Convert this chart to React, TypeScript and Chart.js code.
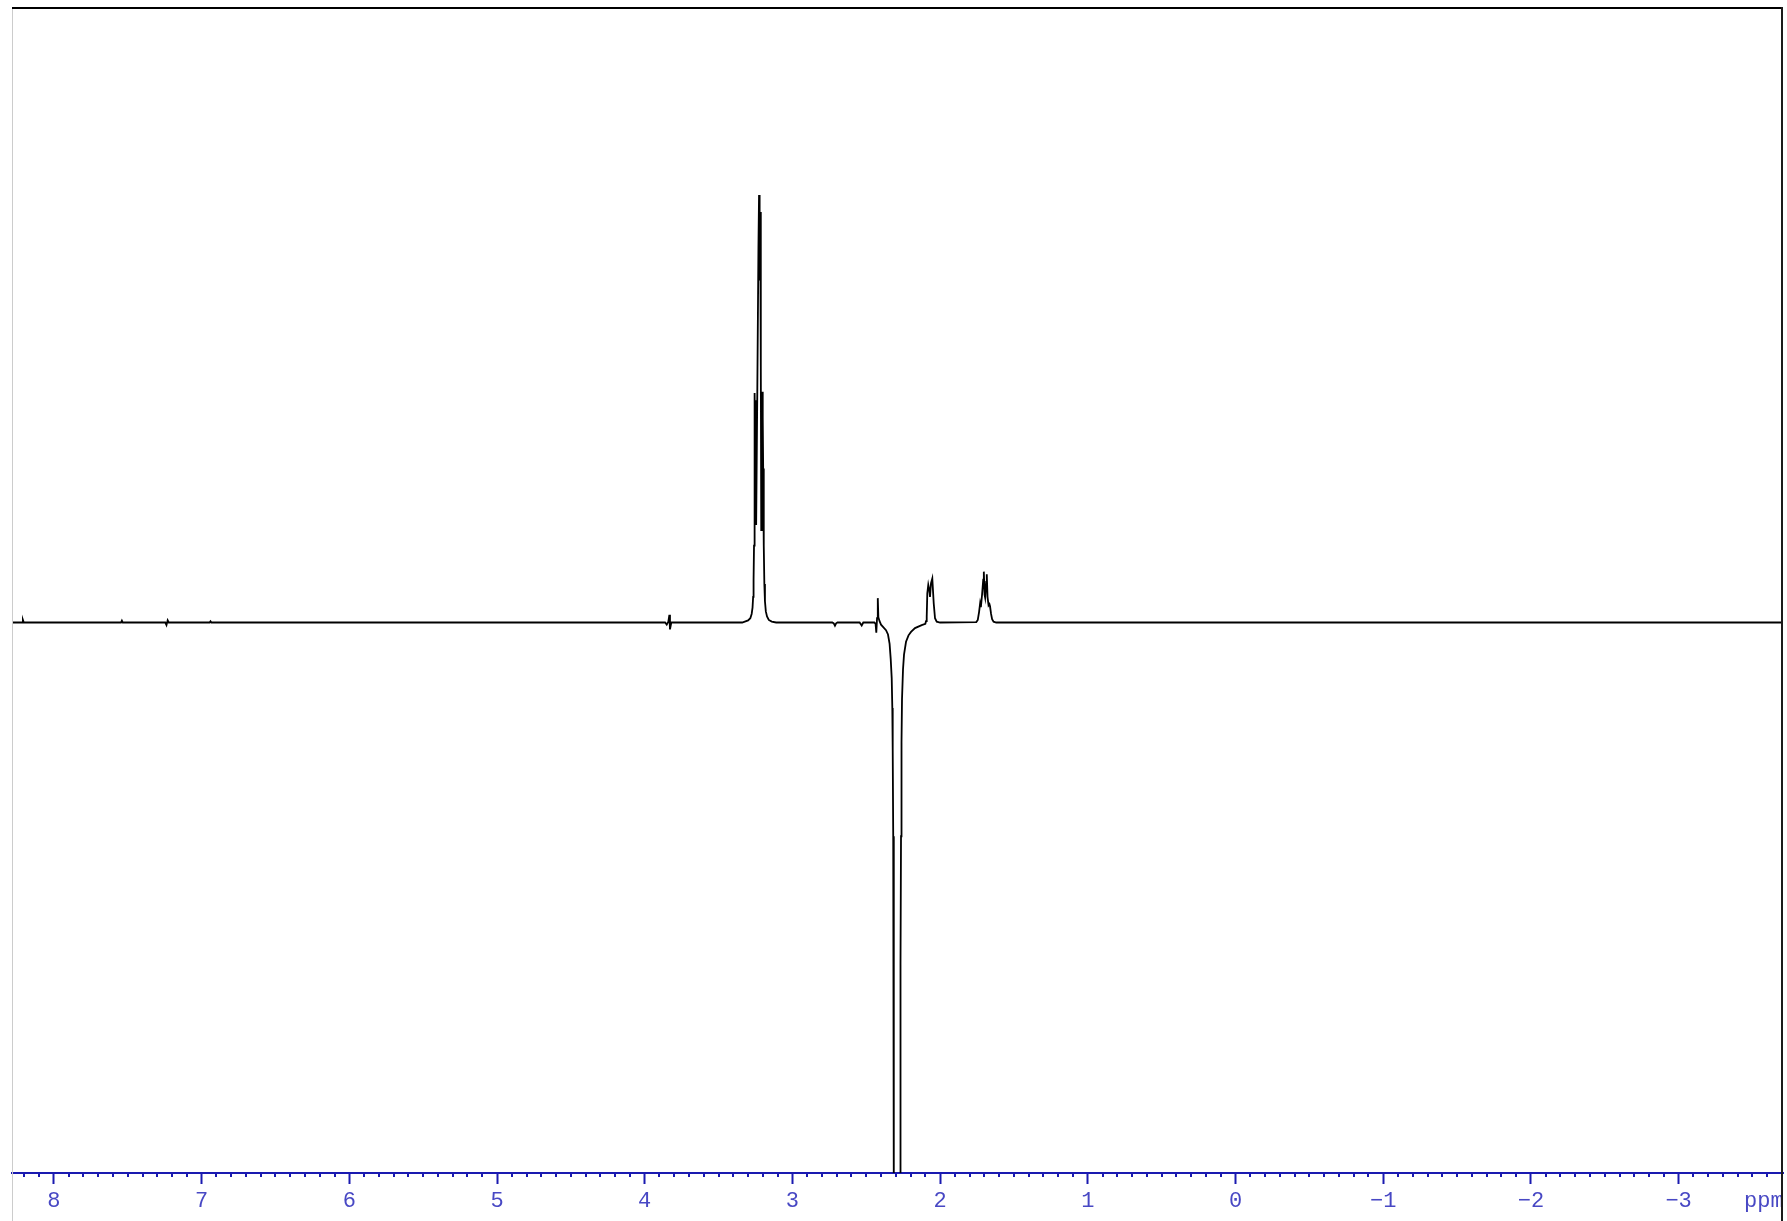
import React, { useEffect, useRef } from 'react';
import { Chart, registerables } from 'chart.js';

Chart.register(...registerables);

// Chemical shift (ppm) and relative intensity
const PPM = [
  8.3, 8.216, 8.21, 8.204, 7.546, 7.54, 7.534, 7.246, 7.238, 7.23, 7.223, 6.946, 6.94, 6.934,
  3.862, 3.851, 3.84, 3.833, 3.829, 3.82, 3.34,
  3.3, 3.285, 3.276, 3.27, 3.266, 3.263, 3.26, 3.257, 3.255, 3.2525, 3.25, 3.2455, 3.2375, 3.23,
  3.226, 3.222, 3.218, 3.214, 3.211, 3.207, 3.204, 3.201, 3.198, 3.194, 3.19, 3.186, 3.18, 3.172,
  3.16, 3.14, 3.11,
  2.73, 2.72, 2.712, 2.704, 2.695, 2.545, 2.531, 2.52,
  2.445, 2.437, 2.432, 2.427, 2.422, 2.418, 2.41, 2.4, 2.3866, 2.3663, 2.3528, 2.342, 2.3345,
  2.3277, 2.3236, 2.3209, 2.3175, 2.3141, 2.313, 2.2919, 2.271, 2.2681, 2.2647, 2.2613, 2.258,
  2.2512, 2.2444, 2.2308, 2.2139, 2.197, 2.1699, 2.1246, 2.1,
  2.0955, 2.0907, 2.0867, 2.08, 2.0731, 2.0684, 2.0616, 2.0528, 2.0433, 2.0345, 2.023, 2.0,
  1.755, 1.745, 1.736, 1.729, 1.724, 1.716, 1.708, 1.704, 1.699, 1.695, 1.688, 1.684, 1.679,
  1.672, 1.666, 1.662, 1.655, 1.648, 1.638, 1.62,
  -3.72,
];

const INTENSITY = [
  0, 0, 0.6, 0, 0, 0.45, 0, 0, -0.6, 0.5, 0, 0, 0.3, 0,
  0, -0.5, 0.2, 1.8, -1.6, 0, 0,
  0.5, 1.0, 2.0, 3.5, 6, 10, 18, 35, 53.7, 42, 52, 22.8, 55, 88,
  100, 80, 96, 60, 21.6, 45, 54, 48, 36, 18, 9, 5, 2.6, 1.4,
  0.6, 0.2, 0,
  0, -0.2, -0.75, -0.2, 0, 0, -0.7, 0,
  0, -0.3, -2.4, 1.0, 5.7, 1.2, 0.3, -0.5, -1.0, -1.8, -2.8, -5, -8.5,
  -13, -20, -30, -50, -80, -135, -600, -135, -80, -50, -28, -18,
  -11, -7.5, -4.5, -3, -2.2, -1.3, -0.6, -0.3,
  0.3, 1.4, 6.8, 8.8, 7.6, 6.0, 9.2, 10.3, 4.5, 1.0, 0.2, 0,
  0.1, 0.6, 2.5, 4.5, 3.6, 6.5, 10, 11.9, 6.5, 5.8, 9.5, 11.3, 6,
  4, 4.3, 3.8, 2, 0.8, 0.2, 0,
  0,
];

const X_MIN = -3.707;
const X_MAX = 8.284;
const Y_MIN = -128.77;
const Y_MAX = 143.51;
const MAJOR_STEP = 1;
const MINOR_STEP = 0.1;
const UNIT_LABEL = 'ppm';

const AXIS_COLOR = '#1a1ab0';
const LABEL_COLOR = '#4848c4';
const FONT_FAMILY = '"Liberation Mono", "DejaVu Sans Mono", monospace';

export default function App() {
  const ref = useRef<HTMLCanvasElement | null>(null);

  useEffect(() => {
    const canvas = ref.current;
    if (!canvas) return;

    const framePlugin = {
      id: 'nmrFrame',
      afterDraw(chart: any) {
        const ctx = chart.ctx as CanvasRenderingContext2D;
        const { left, right, bottom } = chart.chartArea;
        const xs = chart.scales.x;
        ctx.save();
        // minor ticks
        ctx.strokeStyle = AXIS_COLOR;
        ctx.lineWidth = 2;
        ctx.beginPath();
        const kMin = Math.ceil(X_MIN / MINOR_STEP);
        const kMax = Math.floor(X_MAX / MINOR_STEP);
        for (let k = kMin; k <= kMax; k++) {
          if (k % 10 === 0) continue;
          const px = Math.round(xs.getPixelForValue(k * MINOR_STEP));
          ctx.moveTo(px, bottom + 1);
          ctx.lineTo(px, bottom + 4);
        }
        ctx.stroke();
        // unit label
        ctx.font = `22px ${FONT_FAMILY}`;
        ctx.fillStyle = LABEL_COLOR;
        ctx.textBaseline = 'middle';
        ctx.textAlign = 'left';
        ctx.fillText(UNIT_LABEL, right - 39, 1201);
        // frame
        ctx.fillStyle = '#cccccc';
        ctx.fillRect(left, 7, 1, chart.height - 7);
        ctx.fillStyle = '#000000';
        ctx.fillRect(left, 7, right - left, 2);
        ctx.fillStyle = '#1a1a1a';
        ctx.fillRect(right - 2, 7, 2, chart.height - 7);
        ctx.restore();
      },
    };

    const chart = new Chart(canvas, {
      type: 'line',
      data: {
        datasets: [
          {
            data: PPM.map((p, i) => ({ x: p, y: INTENSITY[i] })),
            borderColor: '#000000',
            borderWidth: 1.8,
            pointRadius: 0,
            tension: 0,
            fill: false,
          },
        ],
      },
      options: {
        animation: false,
        responsive: false,
        maintainAspectRatio: false,
        layout: { padding: { left: 12, right: 4, top: 9, bottom: 0 } },
        plugins: { legend: { display: false }, tooltip: { enabled: false } },
        scales: {
          x: {
            type: 'linear',
            reverse: true,
            min: X_MIN,
            max: X_MAX,
            afterFit: (scale: any) => {
              scale.height = 48;
            },
            border: { display: true, color: AXIS_COLOR, width: 2 },
            grid: {
              display: true,
              drawOnChartArea: false,
              drawTicks: true,
              tickLength: 11,
              tickColor: AXIS_COLOR,
              tickWidth: 2,
            },
            ticks: {
              stepSize: MAJOR_STEP,
              includeBounds: false,
              autoSkip: false,
              maxRotation: 0,
              minRotation: 0,
              padding: 4,
              color: LABEL_COLOR,
              font: { family: FONT_FAMILY, size: 22 },
              callback: (v: any) => {
                const n = Number(v);
                return n < 0 ? '\u2212' + String(-n) : String(n);
              },
            },
          },
          y: {
            type: 'linear',
            display: false,
            min: Y_MIN,
            max: Y_MAX,
          },
        },
      },
      plugins: [framePlugin],
    });

    return () => chart.destroy();
  }, []);

  return (
    <canvas
      ref={ref}
      width={1787}
      height={1221}
      style={{ position: 'fixed', left: 0, top: 0, width: 1787, height: 1221, display: 'block' }}
    />
  );
}
